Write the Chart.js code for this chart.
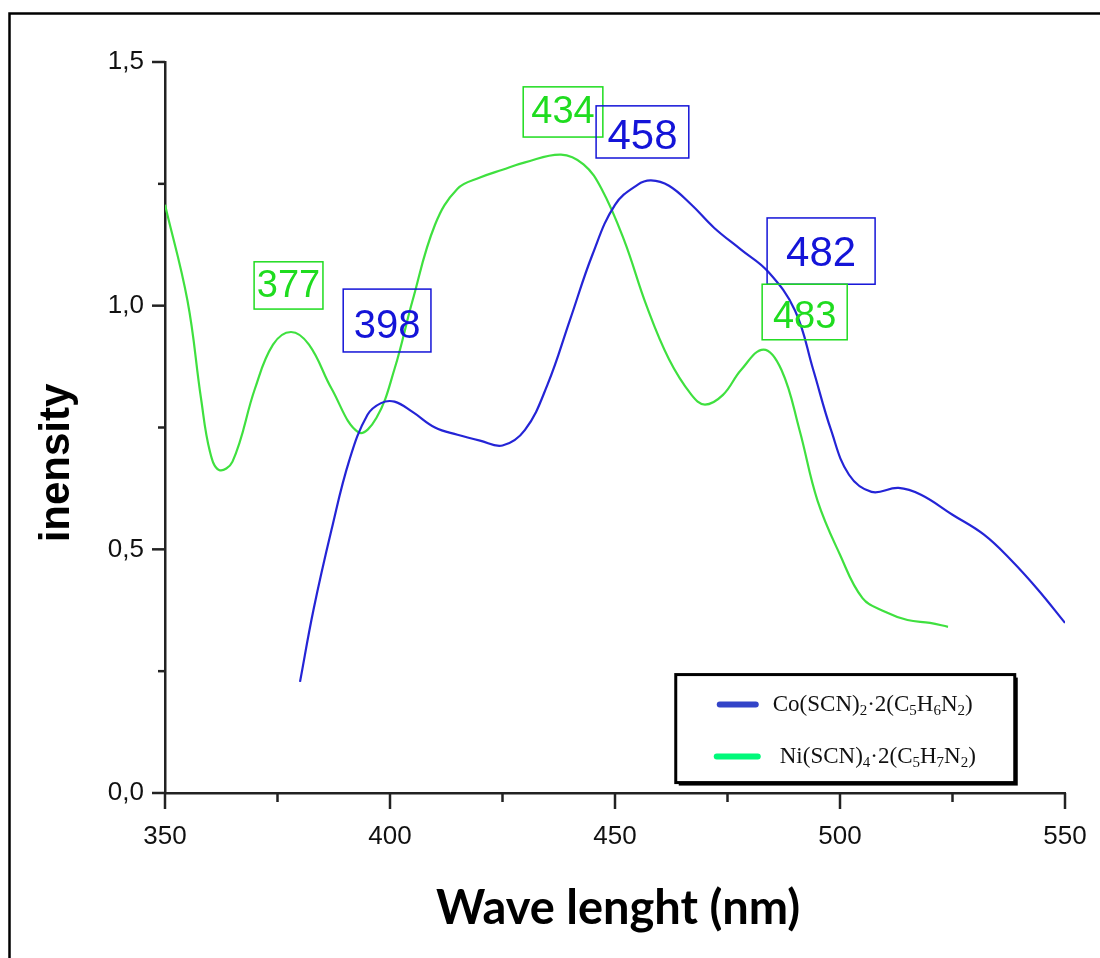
<!DOCTYPE html>
<html lang="en">
<head>
  <meta charset="UTF-8">
  <title>Wave lenght spectra</title>
  <style>
    body {
      margin: 0;
      padding: 0;
      background-color: #fff;
    }
    canvas {
      display: block;
    }
  </style>
  <script src="https://cdn.jsdelivr.net/npm/chart.js"></script>
</head>
<body>

  <canvas id="spectrumChart" width="1100" height="958"></canvas>

  <script>
    // Co(SCN)2·2(C5H6N2) curve
    const coWave = [380, 383, 387, 391, 395, 398, 401, 405, 410, 415, 420, 425, 430, 435, 440, 445, 450, 455, 458, 462, 467, 472, 478, 484, 490, 494, 498, 502, 507, 513, 518, 525, 532, 538, 544, 550];
    const coIntensity = [0.228, 0.376, 0.54, 0.684, 0.776, 0.80, 0.803, 0.782, 0.75, 0.735, 0.723, 0.713, 0.745, 0.838, 0.971, 1.105, 1.207, 1.248, 1.257, 1.246, 1.207, 1.16, 1.115, 1.07, 0.99, 0.87, 0.745, 0.653, 0.618, 0.626, 0.612, 0.571, 0.53, 0.478, 0.417, 0.349];

    // Ni(SCN)4·2(C5H7N2) curve
    const niWave = [350, 355, 358, 360, 362, 365, 370, 374, 378, 382, 387, 393, 397, 401, 405, 410, 415, 420, 425, 430, 438, 443, 447, 452, 457, 462, 467, 470, 474, 478, 483, 487, 491, 495, 500, 505, 510, 515, 520, 524];
    const niIntensity = [1.207, 1.01, 0.81, 0.70, 0.663, 0.68, 0.83, 0.92, 0.946, 0.92, 0.83, 0.74, 0.77, 0.87, 1.01, 1.166, 1.24, 1.263, 1.279, 1.294, 1.31, 1.29, 1.24, 1.135, 1.00, 0.89, 0.817, 0.797, 0.817, 0.868, 0.91, 0.868, 0.745, 0.60, 0.489, 0.40, 0.372, 0.355, 0.349, 0.341];

    const seriesLabels = ['Co(SCN)₂·2(C₅H₆N₂)', 'Ni(SCN)₄·2(C₅H₇N₂)'];

    // axis ticks
    const xTicks = [350, 400, 450, 500, 550];
    const yTicks = [0, 0.5, 1.0, 1.5];

    // peak label boxes (in nm / intensity units)
    const peakBoxes = [
      { text: '377', color: '#1fdc1f', size: 38, x1: 369.8, x2: 385.1, y1: 1.090, y2: 0.993, dy: 1 },
      { text: '398', color: '#1414d8', size: 40, x1: 389.6, x2: 409.1, y1: 1.034, y2: 0.905, dy: 6 },
      { text: '434', color: '#1fdc1f', size: 38, x1: 429.6, x2: 447.3, y1: 1.449, y2: 1.346, dy: 1 },
      { text: '458', color: '#1414d8', size: 42, x1: 445.8, x2: 466.4, y1: 1.410, y2: 1.303, dy: 5 },
      { text: '482', color: '#1414d8', size: 42, x1: 483.8, x2: 507.8, y1: 1.180, y2: 1.044, dy: 3 },
      { text: '483', color: '#1fdc1f', size: 38, x1: 482.7, x2: 501.6, y1: 1.044, y2: 0.930, dy: 6 }
    ];

    const lineColors = ['#2424d6', '#3fe03f'];
    const legendColors = ['#3344c8', '#00f97a'];

    function toPoints(xs, ys) {
      return xs.map((x, i) => ({ x: x, y: ys[i] }));
    }

    // Minor/major tick marks, frame, titles, peak boxes and legend
    const decorations = {
      id: 'decorations',
      beforeDraw(chart) {
        const ctx = chart.ctx;
        ctx.save();
        ctx.fillStyle = '#fff';
        ctx.fillRect(0, 0, chart.width, chart.height);
        // outer frame
        ctx.strokeStyle = '#000';
        ctx.lineWidth = 2.5;
        ctx.strokeRect(9.5, 13.5, 1300, 1300);
        ctx.restore();
      },
      afterDraw(chart) {
        const ctx = chart.ctx;
        const xs = chart.scales.x;
        const ys = chart.scales.y;
        const area = chart.chartArea;
        ctx.save();
        ctx.strokeStyle = '#222';
        ctx.lineWidth = 2.5;
        // x ticks
        for (let v = 350; v <= 550; v += 25) {
          const px = xs.getPixelForValue(v);
          const len = (v % 50 === 0) ? 16 : 9;
          ctx.beginPath();
          ctx.moveTo(px, area.bottom);
          ctx.lineTo(px, area.bottom + len);
          ctx.stroke();
        }
        // y ticks
        for (let v = 0; v <= 1.5001; v += 0.25) {
          const py = ys.getPixelForValue(v);
          const len = (Math.round(v * 100) % 50 === 0) ? 13 : 7;
          ctx.beginPath();
          ctx.moveTo(area.left, py);
          ctx.lineTo(area.left - len, py);
          ctx.stroke();
        }

        // axis titles
        ctx.fillStyle = '#000';
        ctx.textAlign = 'center';
        ctx.textBaseline = 'middle';
        ctx.font = 'bold 47px Lato, "Open Sans", sans-serif';
        ctx.fillText('Wave lenght (nm)', 618, 909);
        ctx.save();
        ctx.translate(57, 463);
        ctx.rotate(-Math.PI / 2);
        ctx.font = 'bold 42px "Liberation Sans", Arial, sans-serif';
        ctx.fillText('inensity', 0, 0);
        ctx.restore();

        // peak boxes
        peakBoxes.forEach(b => {
          const left = xs.getPixelForValue(b.x1);
          const right = xs.getPixelForValue(b.x2);
          const top = ys.getPixelForValue(b.y1);
          const bottom = ys.getPixelForValue(b.y2);
          ctx.strokeStyle = b.color;
          ctx.lineWidth = 1.5;
          ctx.strokeRect(left, top, right - left, bottom - top);
          ctx.fillStyle = b.color;
          ctx.font = b.size + 'px "Liberation Sans", Arial, sans-serif';
          ctx.textAlign = 'center';
          ctx.textBaseline = 'middle';
          ctx.fillText(b.text, (left + right) / 2, (top + bottom) / 2 + b.dy);
        });

        // legend box
        const lx = xs.getPixelForValue(463.5);
        const ly = ys.getPixelForValue(0.243);
        const lw = 339;
        const lh = 108;
        ctx.fillStyle = '#000';
        ctx.fillRect(lx + 3, ly + 3, lw, lh);
        ctx.fillStyle = '#fff';
        ctx.fillRect(lx, ly, lw, lh);
        ctx.strokeStyle = '#000';
        ctx.lineWidth = 3;
        ctx.strokeRect(lx, ly, lw, lh);

        const rows = [ly + 30, ly + 82];
        chart.data.datasets.forEach((ds, i) => {
          const y = rows[i];
          ctx.strokeStyle = legendColors[i];
          ctx.lineWidth = 6;
          ctx.lineCap = 'round';
          ctx.beginPath();
          ctx.moveTo(lx + 44 - (i ? 3 : 0), y);
          ctx.lineTo(lx + 80 + (i ? 2 : 0), y);
          ctx.stroke();
          drawFormula(ctx, ds.label, lx + 97 + (i ? 7 : 0), y + 6);
        });
        ctx.restore();
      }
    };

    // draws a formula where unicode subscript digits become small lowered digits
    function drawFormula(ctx, text, x, baseline) {
      const subs = '₀₁₂₃₄₅₆₇₈₉';
      ctx.fillStyle = '#111';
      ctx.textAlign = 'left';
      ctx.textBaseline = 'alphabetic';
      for (const ch of text) {
        const k = subs.indexOf(ch);
        if (k >= 0) {
          ctx.font = '15px "Liberation Serif", "Times New Roman", serif';
          ctx.fillText(String(k), x, baseline + 4);
          x += ctx.measureText(String(k)).width;
        } else {
          ctx.font = '23px "Liberation Serif", "Times New Roman", serif';
          ctx.fillText(ch, x, baseline);
          x += ctx.measureText(ch).width;
        }
      }
    }

    new Chart(document.getElementById('spectrumChart'), {
      type: 'line',
      data: {
        datasets: [
          {
            label: seriesLabels[0],
            data: toPoints(coWave, coIntensity),
            borderColor: lineColors[0],
            borderWidth: 2.2,
            pointRadius: 0,
            tension: 0.4,
            fill: false
          },
          {
            label: seriesLabels[1],
            data: toPoints(niWave, niIntensity),
            borderColor: lineColors[1],
            borderWidth: 2.2,
            pointRadius: 0,
            tension: 0.4,
            fill: false
          }
        ]
      },
      options: {
        responsive: false,
        animation: false,
        devicePixelRatio: 1,
        layout: { padding: { top: 62, right: 35, left: 0, bottom: 0 } },
        plugins: {
          legend: { display: false },
          tooltip: { enabled: false }
        },
        scales: {
          x: {
            type: 'linear',
            min: 350,
            max: 550,
            afterFit(scale) {
              scale.height = 165;
              scale.paddingLeft = 0;
              scale.paddingRight = 0;
            },
            afterBuildTicks(scale) { scale.ticks = xTicks.map(v => ({ value: v })); },
            grid: { display: false, drawTicks: false },
            border: { display: true, color: '#222', width: 2.5 },
            ticks: {
              padding: 28,
              color: '#111',
              font: { family: '"Liberation Sans", Arial, sans-serif', size: 26 },
              maxRotation: 0
            }
          },
          y: {
            type: 'linear',
            min: 0,
            max: 1.5,
            afterFit(scale) {
              scale.width = 165;
              scale.paddingTop = 0;
              scale.paddingBottom = 0;
            },
            afterBuildTicks(scale) { scale.ticks = yTicks.map(v => ({ value: v })); },
            grid: { display: false, drawTicks: false },
            border: { display: true, color: '#222', width: 2.5 },
            ticks: {
              padding: 21,
              color: '#111',
              font: { family: '"Liberation Sans", Arial, sans-serif', size: 26 },
              callback: v => v.toFixed(1).replace('.', ',')
            }
          }
        }
      },
      plugins: [decorations]
    });
  </script>

</body>
</html>
